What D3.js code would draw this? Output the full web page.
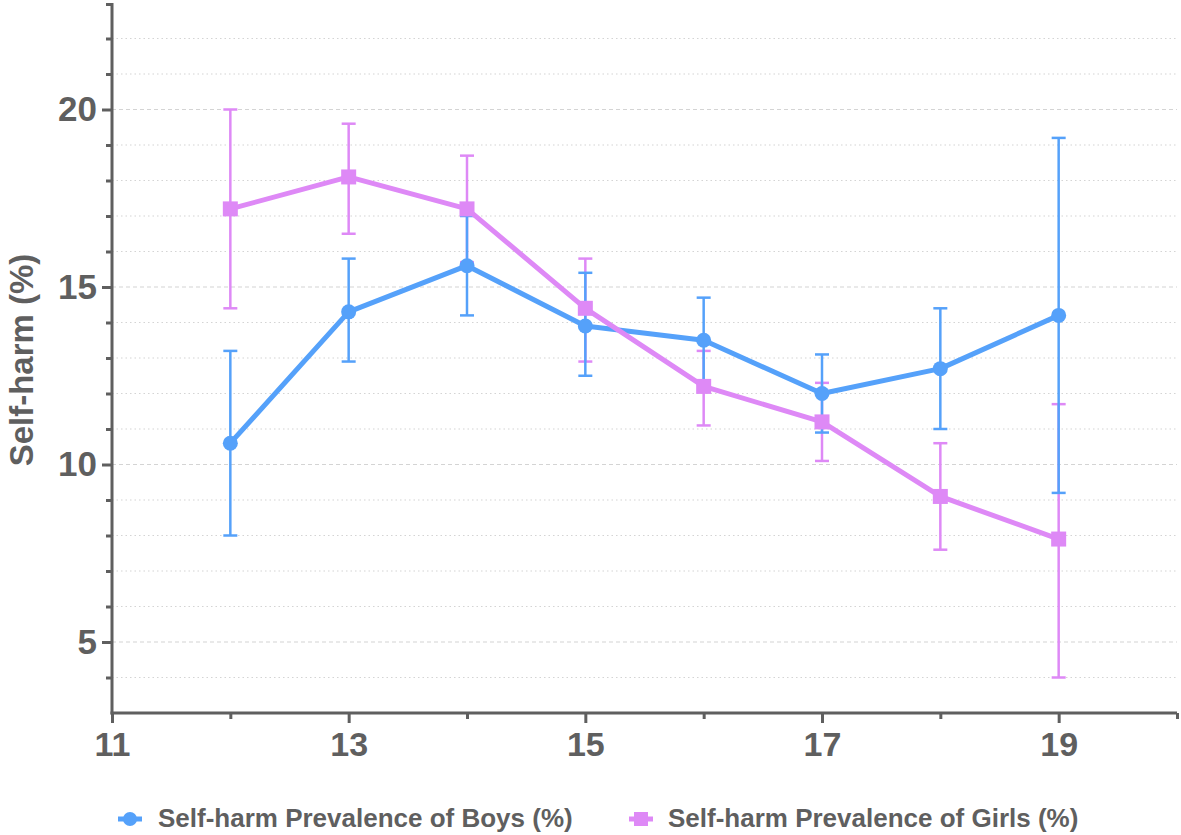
<!DOCTYPE html>
<html>
<head>
<meta charset="utf-8">
<script src="https://cdn.jsdelivr.net/npm/d3@7/dist/d3.min.js"></script>
<style>
  html, body { margin: 0; padding: 0; background: #fff; }
  svg { display: block; }
  text { font-family: "Liberation Sans", Arial, Helvetica, sans-serif; font-weight: bold; fill: #5f5f5f; }
</style>
</head>
<body>
<svg id="chart" width="1181" height="835"></svg>
<script>
// ---- data ----
const ages = [12, 13, 14, 15, 16, 17, 18, 19];
const boysValue = [10.6, 14.3, 15.6, 13.9, 13.5, 12.0, 12.7, 14.2];
const boysLow   = [8.0, 12.9, 14.2, 12.5, 12.3, 10.9, 11.0, 9.2];
const boysHigh  = [13.2, 15.8, 17.0, 15.4, 14.7, 13.1, 14.4, 19.2];
const girlsValue = [17.2, 18.1, 17.2, 14.4, 12.2, 11.2, 9.1, 7.9];
const girlsLow   = [14.4, 16.5, 15.7, 12.9, 11.1, 10.1, 7.6, 4.0];
const girlsHigh  = [20.0, 19.6, 18.7, 15.8, 13.2, 12.3, 10.6, 11.7];
const xMajorTicks = [11, 13, 15, 17, 19];
const xMinorTicks = [12, 14, 16, 18, 20];
const yMajorTicks = [5, 10, 15, 20];
const yMinorTicks = [4, 6, 7, 8, 9, 11, 12, 13, 14, 16, 17, 18, 19, 21, 22];
const yLabel = "Self-harm (%)";
const boysLabel = "Self-harm Prevalence of Boys (%)";
const girlsLabel = "Self-harm Prevalence of Girls (%)";

const blue = "#55a1fa";
const pink = "#de89f6";
const axisColor = "#5f5f5f";
const gridColor = "#d4d4d4";

const margin = { left: 112, top: 3, right: 4, bottom: 122 };
const W = 1181, H = 835;
const svg = d3.select("#chart");

const x = d3.scaleLinear().domain([11, 20]).range([margin.left, W - margin.right]);
const y = d3.scaleLinear().domain([3, 23]).range([H - margin.bottom, margin.top]);

// ---- grid ----
const grid = svg.append("g");
grid.selectAll("line.minor").data(yMinorTicks).join("line")
  .attr("x1", x(11)).attr("x2", x(20))
  .attr("y1", d => y(d)).attr("y2", d => y(d))
  .attr("stroke", gridColor).attr("stroke-width", 1.2)
  .attr("stroke-dasharray", "1.5,3");
grid.selectAll("line.major").data(yMajorTicks).join("line")
  .attr("x1", x(11)).attr("x2", x(20))
  .attr("y1", d => y(d)).attr("y2", d => y(d))
  .attr("stroke", gridColor).attr("stroke-width", 1.2)
  .attr("stroke-dasharray", "4,3");

// ---- axes ----
const yAxisMajor = d3.axisLeft(y).tickValues(yMajorTicks).tickSize(10).tickPadding(5).tickFormat(d3.format("d"));
const yAxisMinor = d3.axisLeft(y).tickValues(yMinorTicks).tickSize(6).tickFormat("");
const xAxisMajor = d3.axisBottom(x).tickValues(xMajorTicks).tickSize(10).tickPadding(9).tickFormat(d3.format("d"));
const xAxisMinor = d3.axisBottom(x).tickValues(xMinorTicks).tickSize(6).tickFormat("");

function styleAxis(g, size) {
  g.select(".domain").remove();
  g.selectAll(".tick line").attr("stroke", axisColor).attr("stroke-width", 3);
  g.selectAll(".tick text").attr("fill", axisColor).style("font-size", size + "px")
    .style("font-family", '"Liberation Sans", Arial, sans-serif').style("font-weight", "bold");
}

const gy1 = svg.append("g").attr("transform", `translate(${margin.left},0)`).call(yAxisMajor);
styleAxis(gy1, 35);
const gy2 = svg.append("g").attr("transform", `translate(${margin.left},0)`).call(yAxisMinor);
styleAxis(gy2, 35);
const gx1 = svg.append("g").attr("transform", `translate(0,${y(3)})`).call(xAxisMajor);
styleAxis(gx1, 34);
const gx2 = svg.append("g").attr("transform", `translate(0,${y(3)})`).call(xAxisMinor);
styleAxis(gx2, 34);

// axis lines
svg.append("line").attr("x1", x(11)).attr("x2", x(11)).attr("y1", y(23)).attr("y2", y(3) + 1.5)
  .attr("stroke", axisColor).attr("stroke-width", 3);
svg.append("line").attr("x1", x(11) - 1.5).attr("x2", x(20)).attr("y1", y(3)).attr("y2", y(3))
  .attr("stroke", axisColor).attr("stroke-width", 3);
// top cap tick of y axis
svg.append("line").attr("x1", x(11) - 6).attr("x2", x(11)).attr("y1", y(23) + 1.5).attr("y2", y(23) + 1.5)
  .attr("stroke", axisColor).attr("stroke-width", 3);

// y label
svg.append("text")
  .attr("transform", `translate(33, ${(y(3) + y(23)) / 2 + 2}) rotate(-90)`)
  .attr("text-anchor", "middle")
  .style("font-size", "33px")
  .text(yLabel);

// ---- series ----
const boys = ages.map((a, i) => ({ a, v: boysValue[i], lo: boysLow[i], hi: boysHigh[i] }));
const girls = ages.map((a, i) => ({ a, v: girlsValue[i], lo: girlsLow[i], hi: girlsHigh[i] }));

function errorBars(data, color) {
  const g = svg.append("g").attr("stroke", color).attr("stroke-width", 2.5).attr("fill", "none");
  g.selectAll("line.v").data(data).join("line")
    .attr("x1", d => x(d.a)).attr("x2", d => x(d.a))
    .attr("y1", d => y(d.lo)).attr("y2", d => y(d.hi));
  g.selectAll("line.lo").data(data).join("line")
    .attr("x1", d => x(d.a) - 7).attr("x2", d => x(d.a) + 7)
    .attr("y1", d => y(d.lo)).attr("y2", d => y(d.lo));
  g.selectAll("line.hi").data(data).join("line")
    .attr("x1", d => x(d.a) - 7).attr("x2", d => x(d.a) + 7)
    .attr("y1", d => y(d.hi)).attr("y2", d => y(d.hi));
}
const line = d3.line().x(d => x(d.a)).y(d => y(d.v));

errorBars(girls, pink);
errorBars(boys, blue);
svg.append("path").datum(boys).attr("d", line).attr("fill", "none")
  .attr("stroke", blue).attr("stroke-width", 5).attr("stroke-linejoin", "round");
svg.append("path").datum(girls).attr("d", line).attr("fill", "none")
  .attr("stroke", pink).attr("stroke-width", 5).attr("stroke-linejoin", "round");

svg.append("g").selectAll("circle").data(boys).join("circle")
  .attr("cx", d => x(d.a)).attr("cy", d => y(d.v)).attr("r", 7.5).attr("fill", blue);
svg.append("g").selectAll("rect").data(girls).join("rect")
  .attr("x", d => x(d.a) - 7.5).attr("y", d => y(d.v) - 7.5)
  .attr("width", 15).attr("height", 15).attr("fill", pink);

// ---- legend ----
const leg = svg.append("g");
const ly = 819;
leg.append("line").attr("x1", 118).attr("x2", 142).attr("y1", ly).attr("y2", ly)
  .attr("stroke", blue).attr("stroke-width", 5);
leg.append("circle").attr("cx", 130).attr("cy", ly).attr("r", 7).attr("fill", blue);
leg.append("text").attr("x", 158).attr("y", ly + 8).style("font-size", "26px").text(boysLabel);

leg.append("line").attr("x1", 629).attr("x2", 653).attr("y1", ly).attr("y2", ly)
  .attr("stroke", pink).attr("stroke-width", 5);
leg.append("rect").attr("x", 634).attr("y", ly - 7).attr("width", 14).attr("height", 14).attr("fill", pink);
leg.append("text").attr("x", 668).attr("y", ly + 8).style("font-size", "26px").text(girlsLabel);
</script>
</body>
</html>
